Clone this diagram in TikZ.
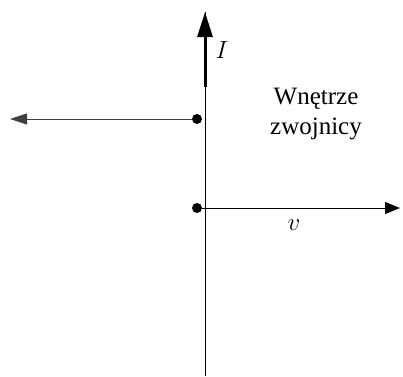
\documentclass[tikz,border=0pt]{standalone}
\usepackage{fontspec}
\setmainfont{Liberation Serif}
\usetikzlibrary{arrows.meta}
\begin{document}
\begin{tikzpicture}[x=1pt,y=1pt,
  thinline/.style={line width=1pt,black},
  dotpt/.style={circle,fill=black,inner sep=0pt,minimum size=10pt},
  lbl/.style={font=\fontsize{25}{30}\selectfont,align=center}]
\useasboundingbox (0,0) rectangle (403,376);
\coordinate (vb) at (205,0);
\coordinate (vt) at (205,364);
\coordinate (ib) at (205,289);
\coordinate (lt) at (10,257);
\coordinate (rt) at (400,168);
\node[dotpt] (d1) at (197,257) {};
\node[dotpt] (d2) at (197,168) {};
\draw[thinline] (vb) -- (vt);
\draw[line width=3pt,-{Triangle[length=25pt,width=15pt]}] (ib) -- (vt);
\draw[thinline,black!75,-{Triangle[length=17pt,width=11pt]}] (d1) -- (lt);
\draw[thinline,-{Triangle[length=15pt,width=12pt]}] (d2) -- (rt);
\node[font=\fontsize{36}{42}\selectfont] (I) at (222,326) {$I$};
\node[font=\fontsize{32}{38}\selectfont] (v) at (294,151) {$v$};
\node[lbl] (t) at (316,262) {Wnętrze\\zwojnicy};
\end{tikzpicture}
\end{document}
